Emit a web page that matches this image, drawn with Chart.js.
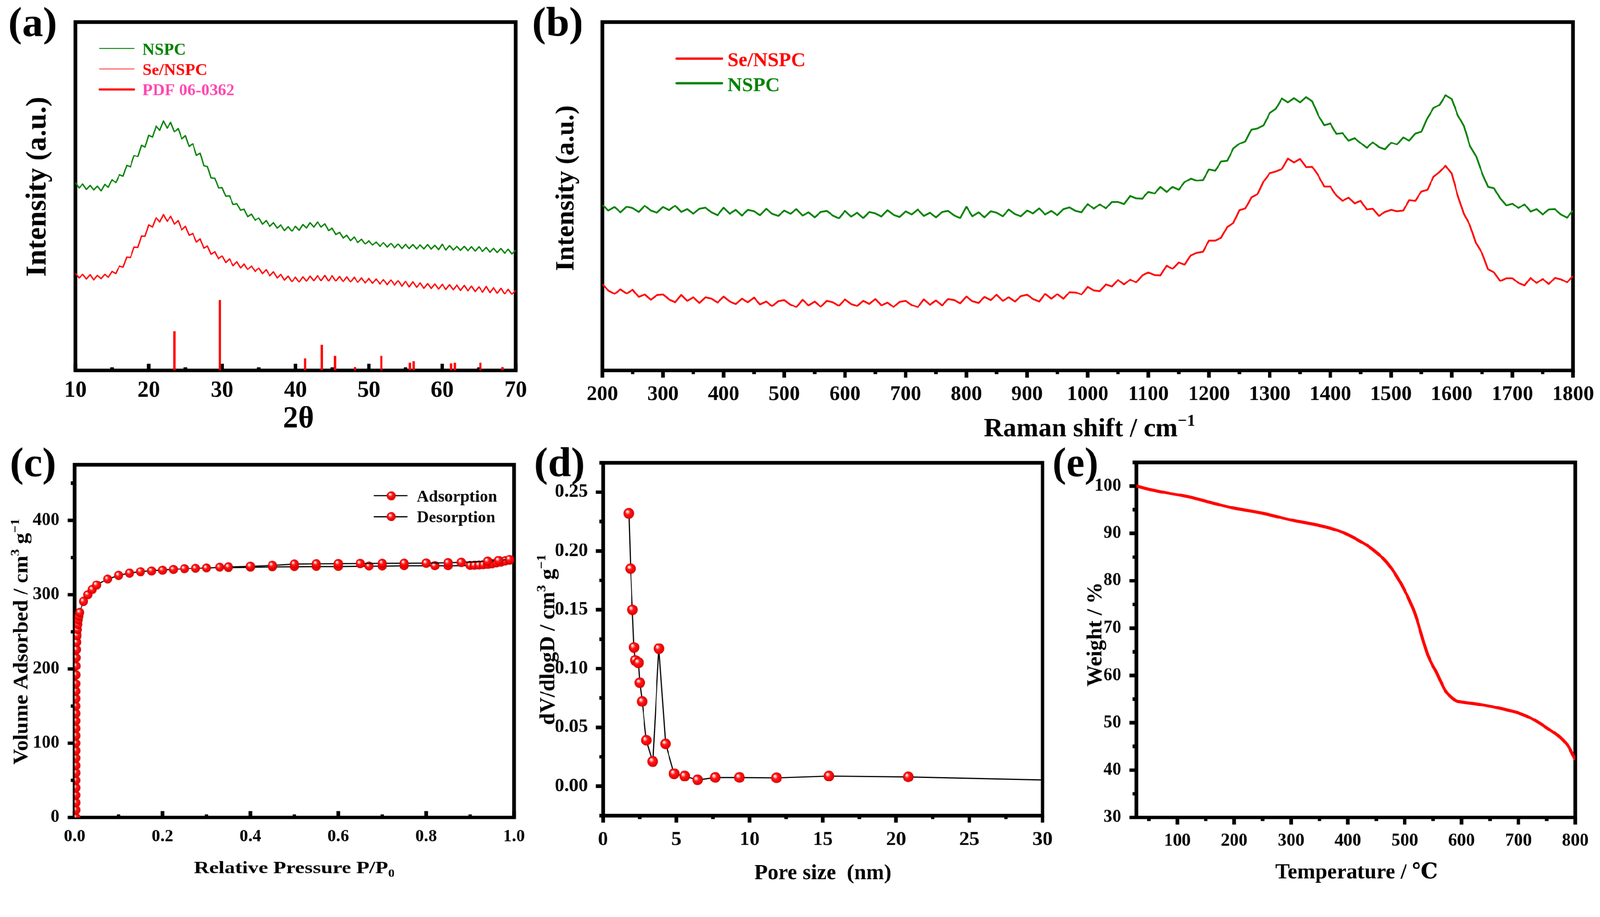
<!DOCTYPE html>
<html>
<head>
<meta charset="utf-8">
<script src="https://cdn.jsdelivr.net/npm/chart.js@4.4.1/dist/chart.umd.min.js"></script>
<style>
  html, body { margin: 0; padding: 0; background: #fff; overflow: hidden; }
  #stage { position: absolute; left: 0; top: 0; width: 4224px; height: 2348px; transform-origin: 0 0; }
  canvas { position: absolute; }
</style>
</head>
<body>
<div id="stage">
<canvas id="chartA"></canvas>
<canvas id="chartB"></canvas>
<canvas id="chartC"></canvas>
<canvas id="chartD"></canvas>
<canvas id="chartE"></canvas>
</div>
<script>
// ---- (a) XRD ----
const twoTheta = [
  10,10.5,11,11.5,12,12.5,13,13.5,14,14.5,15,15.5,16,16.5,17,17.5,18,18.5,19,19.5,
  20,20.5,21,21.5,22,22.5,23,23.5,24,24.5,25,25.5,26,26.5,27,27.5,28,28.5,29,29.5,
  30,30.5,31,31.5,32,32.5,33,33.5,34,34.5,35,35.5,36,36.5,37,37.5,38,38.5,39,39.5,
  40,40.5,41,41.5,42,42.5,43,43.5,44,44.5,45,45.5,46,46.5,47,47.5,48,48.5,49,49.5,
  50,50.5,51,51.5,52,52.5,53,53.5,54,54.5,55,55.5,56,56.5,57,57.5,58,58.5,59,59.5,
  60,60.5,61,61.5,62,62.5,63,63.5,64,64.5,65,65.5,66,66.5,67,67.5,68,68.5,69,69.5,70
];
const xrdNspc = [
  53.9,52.4,53.5,52.0,53.1,51.8,52.9,51.6,53.4,52.6,54.8,53.9,56.2,55.8,58.9,58.5,61.7,61.4,64.6,64.1,
  67.5,67.0,70.2,69.0,71.6,69.6,71.2,68.5,69.5,66.5,67.4,64.3,65.1,61.8,62.4,58.8,58.6,55.3,55.2,52.4,
  52.5,50.0,50.1,47.7,47.9,46.0,46.3,44.2,44.9,43.1,43.8,42.0,43.0,41.4,42.4,40.9,41.8,40.2,41.3,40.0,
  41.4,40.3,41.9,40.9,42.4,41.2,42.6,41.2,42.1,40.2,40.9,39.0,39.6,38.0,38.8,37.3,38.3,36.8,37.7,36.3,
  37.3,36.0,36.9,35.6,36.7,35.4,36.5,35.2,36.3,35.0,36.2,35.0,36.1,34.9,36.0,34.9,36.1,34.8,35.9,34.7,
  36.2,34.6,35.8,34.6,35.6,34.5,35.6,34.4,35.5,34.3,35.5,34.2,35.3,34.0,35.1,33.9,35.0,33.7,34.8,33.5,34.5
];
const xrdSeNspc = [
  27.9,26.6,27.6,26.3,27.5,26.0,27.3,26.4,27.6,26.8,28.4,27.8,30.0,29.7,32.5,32.4,35.4,35.3,38.6,38.5,
  41.8,41.2,43.9,42.6,44.8,42.8,44.3,42.0,43.0,40.4,41.4,38.8,39.3,36.9,37.8,35.1,35.7,33.4,34.1,32.0,
  32.9,31.0,32.0,30.1,31.2,29.5,30.6,29.0,30.0,28.4,29.4,27.8,28.9,27.2,28.3,26.6,27.6,26.0,27.1,25.5,
  26.8,25.4,26.9,25.6,27.1,25.8,27.2,25.8,27.3,25.7,27.2,25.7,27.0,25.5,26.9,25.4,26.8,25.3,26.6,25.1,
  26.5,25.0,26.3,24.8,26.1,24.6,26.0,24.5,25.8,24.2,25.6,24.0,25.4,23.9,25.1,23.6,24.9,23.5,24.8,23.4,
  24.7,23.3,24.6,23.2,24.5,23.0,24.4,22.9,24.2,22.7,24.0,22.5,24.1,22.4,23.8,22.2,23.6,22.0,23.3,21.9,23.0
];
const pdfPos = [23.5, 29.7, 41.3, 43.6, 45.4, 48.1, 51.7, 55.6, 56.1, 61.2, 61.7, 65.2, 68.2];
const pdfInt = [11.2, 20.2, 3.4, 7.3, 4.2, 1.0, 4.2, 2.2, 2.6, 2.0, 2.2, 2.2, 1.0];
const xrdTicks = [10, 20, 30, 40, 50, 60, 70];

// ---- (b) Raman ----
const ramanShift = [
  200,210,220,230,240,250,260,270,280,290,300,310,320,330,340,350,360,370,380,390,
  400,410,420,430,440,450,460,470,480,490,500,510,520,530,540,550,560,570,580,590,
  600,610,620,630,640,650,660,670,680,690,700,710,720,730,740,750,760,770,780,790,
  800,810,820,830,840,850,860,870,880,890,900,910,920,930,940,950,960,970,980,990,
  1000,1010,1020,1030,1040,1050,1060,1070,1080,1090,1100,1110,1120,1130,1140,1150,1160,1170,1180,1190,
  1200,1210,1220,1230,1240,1250,1260,1270,1280,1290,1300,1310,1320,1330,1340,1350,1360,1370,1380,1390,
  1400,1410,1420,1430,1440,1450,1460,1470,1480,1490,1500,1510,1520,1530,1540,1550,1560,1570,1580,1590,
  1600,1610,1620,1630,1640,1650,1660,1670,1680,1690,1700,1710,1720,1730,1740,1750,1760,1770,1780,1790,1800
];
const ramanNspc = [
  47.5,45.9,46.9,45.4,47.0,46.6,45.5,47.3,45.9,45.3,46.9,46.0,47.3,45.5,46.3,45.0,46.4,46.7,45.4,44.6,
  46.7,45.0,46.1,44.5,46.1,45.7,44.6,46.4,45.0,44.4,45.9,45.0,46.3,44.5,45.4,44.0,45.5,45.8,44.5,43.7,
  45.8,44.2,45.3,43.8,45.5,45.1,44.2,46.0,44.7,44.1,45.7,44.8,46.2,44.4,45.3,44.0,45.5,45.8,44.5,43.8,
  47.0,44.3,45.4,44.0,45.7,45.3,44.3,46.2,44.9,44.3,45.9,45.1,46.5,44.8,45.8,44.6,46.3,46.8,45.8,45.4,
  47.8,46.4,47.7,46.5,48.4,48.4,47.8,50.1,49.4,49.3,51.3,50.8,52.7,51.3,52.7,51.9,54.1,55.1,54.5,54.7,
  57.7,57.3,60.0,60.2,63.7,65.1,65.8,69.2,69.5,70.4,73.9,75.1,78.1,77.0,78.2,77.0,78.5,77.3,73.3,70.4,
  70.9,67.9,68.1,66.0,66.7,65.3,63.9,65.5,64.1,63.5,65.4,64.9,66.9,66.0,68.0,68.5,72.5,75.3,76.3,79.0,
  77.9,73.3,70.2,64.5,61.6,56.7,52.7,52.3,49.4,47.4,47.9,46.6,47.7,45.6,46.3,44.8,46.2,46.3,44.8,43.9,45.9
];
const ramanSeNspc = [
  24.7,23.0,22.0,23.3,22.1,23.2,21.1,21.8,20.3,21.6,21.8,20.4,19.6,21.7,20.0,21.0,19.4,21.0,20.6,19.5,
  21.2,19.8,19.1,20.6,19.6,20.9,19.0,19.8,18.5,19.9,20.2,18.9,18.2,20.3,18.7,19.8,18.3,20.0,19.6,18.6,
  20.4,19.1,18.5,20.0,19.1,20.5,18.7,19.5,18.2,19.7,20.0,18.8,18.2,20.4,18.9,20.1,18.7,20.5,20.2,19.3,
  21.2,19.9,19.4,21.1,20.2,21.7,20.0,21.0,19.8,21.3,21.7,20.5,19.8,22.0,20.6,21.9,20.6,22.5,22.4,21.8,
  24.0,23.0,22.8,24.7,24.1,26.0,24.7,26.1,25.3,27.3,28.1,27.4,27.3,30.1,29.2,31.0,30.4,33.1,33.8,34.1,
  37.3,37.3,38.1,41.2,42.3,46.0,46.5,49.7,50.6,54.3,56.6,57.1,57.8,60.8,59.7,60.7,58.4,58.5,56.0,52.8,
  52.8,50.2,48.7,49.6,48.0,48.7,46.2,46.4,44.4,45.5,46.1,45.7,45.9,48.9,48.7,51.4,51.9,55.6,57.0,58.8,
  56.5,50.2,45.0,41.7,36.6,33.7,29.0,28.1,25.7,26.5,26.5,25.1,24.4,26.6,25.1,26.3,24.8,26.6,26.2,25.3,27.1
];
const ramanTicks = [200,300,400,500,600,700,800,900,1000,1100,1200,1300,1400,1500,1600,1700,1800];

// ---- (c) N2 isotherm ----
const adsP = [
  0.0025,0.0025,0.0025,0.0025,0.0025,0.0025,0.0025,0.0025,0.0025,0.0025,
  0.0025,0.0025,0.0025,0.0025,0.0025,0.0025,0.0025,0.0025,0.0025,
  0.0027,0.003,0.0033,0.0038,0.0045,0.0055,0.0065,0.0075,0.0085,0.0097,0.0115,
  0.02,0.03,0.04,0.05,0.075,0.10,0.125,0.15,0.175,0.20,0.225,0.25,0.275,0.30,0.33,0.35,
  0.40,0.45,0.50,0.55,0.60,0.67,0.70,0.75,0.82,0.85,0.90,0.91,0.92,0.93,0.94,0.95,0.96,0.97,0.98,0.99
];
const adsV = [
  0,10,20,30,40,50,60,70,80,90,100,110,120,130,140,150,160,170,180,
  192,204,215,226,236,245,253,260,266,271,276,
  291,300,307,313,321,326,329,331,332,333,334,335,335.5,336,337,336.5,
  337,337.5,337.7,338,338,338.5,338.5,339,339,339,339.3,339.5,339.8,340.2,340.8,341.8,343,344,345.5,346.5
];
const desP = [0.99, 0.965, 0.94, 0.88, 0.85, 0.80, 0.75, 0.70, 0.65, 0.60, 0.55, 0.50, 0.45, 0.40, 0.35];
const desV = [347.5, 346, 345, 343.5, 343, 342.5, 342.3, 342.2, 342, 341.8, 341.6, 341.3, 339.5, 338.3, 337.5];
const pressureTicks = [0, 0.2, 0.4, 0.6, 0.8, 1.0];
const volumeTicks = [0, 100, 200, 300, 400];

// ---- (d) pore size distribution ----
const poreSize = [1.76, 1.88, 2.0, 2.11, 2.2, 2.41, 2.51, 2.67, 2.95, 3.39, 3.81, 4.27, 4.85, 5.57, 6.45, 7.66, 9.31, 11.84, 15.42, 20.83, 30];
const poreDv = [0.232, 0.185, 0.150, 0.118, 0.107, 0.105, 0.088, 0.072, 0.039, 0.021, 0.117, 0.036, 0.0106, 0.0086, 0.0054, 0.0074, 0.0074, 0.0071, 0.0086, 0.0079, 0.0054];
const poreMarker = [1,1,1,1,1,1,1,1,1,1,1,1,1,1,1,1,1,1,1,1,0];
const poreTicks = [0, 5, 10, 15, 20, 25, 30];
const dvTicks = [0, 0.05, 0.10, 0.15, 0.20, 0.25];

// ---- (e) TGA ----
const tgaTemp = [28, 55, 85, 121, 157, 193, 253, 301, 349, 385, 421, 445, 469, 493, 517, 541, 556, 571, 588, 600, 620, 654, 680, 702, 725, 744, 760, 774, 788, 800];
const tgaWeight = [100, 99.2, 98.5, 97.7, 96.6, 95.5, 94.2, 92.8, 91.7, 90.5, 88.4, 86.5, 83.8, 79.5, 73.4, 64.2, 60.6, 56.9, 54.8, 54.4, 54.1, 53.4, 52.7, 52.0, 50.8, 49.4, 48.1, 46.9, 45.0, 42.2];
const tempTicks = [100, 200, 300, 400, 500, 600, 700, 800];
const weightTicks = [30, 40, 50, 60, 70, 80, 90, 100];

const SERIF = '"Liberation Serif", "Times New Roman", "DejaVu Serif", serif';
const GREEN = '#008000';
const RED = '#ff0000';
const PINK = '#ff46b0';
const FRAME = 9.5;
const TICKW = 9.5;

// fit the 4224x2348 layout into whatever viewport we get
const stage = document.getElementById('stage');
const fitScale = Math.min(window.innerWidth / 4224, window.innerHeight / 2348) || 1;
stage.style.transform = 'scale(' + fitScale + ')';
const pixelRatio = (window.devicePixelRatio || 1) * fitScale;

function pts(xs, ys) {
  return xs.map((x, i) => ({x: x, y: ys[i]}));
}

function makeBall(r) {
  const c = document.createElement('canvas');
  const s = Math.ceil(2 * r + 2);
  c.width = c.height = s;
  const g = c.getContext('2d');
  const m = s / 2;
  const grad = g.createRadialGradient(m - r * 0.35, m - r * 0.38, r * 0.04, m, m, r);
  grad.addColorStop(0, '#ffffff');
  grad.addColorStop(0.16, '#ffc0c0');
  grad.addColorStop(0.42, '#ff1a1a');
  grad.addColorStop(0.85, '#f00000');
  grad.addColorStop(1, '#b80000');
  g.fillStyle = grad;
  g.beginPath();
  g.arc(m, m, r, 0, Math.PI * 2);
  g.fill();
  return c;
}
const ballC = makeBall(12);
const ballD = makeBall(14);

// rich text: segs = [[text, mode]], mode '' | 'sup' | 'sub'; sx = horizontal stretch
function drawRich(ctx, segs, x, y, size, align, color, sx) {
  sx = sx || 1;
  const small = size * 0.62;
  let w = 0;
  segs.forEach(s => {
    ctx.font = 'bold ' + (s[1] ? small : size) + 'px ' + SERIF;
    w += ctx.measureText(s[0]).width;
  });
  ctx.save();
  ctx.translate(align === 'center' ? x - w * sx / 2 : x, y);
  ctx.scale(sx, 1);
  ctx.fillStyle = color || '#000';
  ctx.textBaseline = 'alphabetic';
  ctx.textAlign = 'left';
  let cx = 0;
  segs.forEach(s => {
    ctx.font = 'bold ' + (s[1] ? small : size) + 'px ' + SERIF;
    let dy = 0;
    if (s[1] === 'sup') dy = -size * 0.4;
    if (s[1] === 'sub') dy = size * 0.2;
    ctx.fillText(s[0], cx, dy);
    cx += ctx.measureText(s[0]).width;
  });
  ctx.restore();
}

const deco = {};

const decoPlugin = {
  id: 'panelDeco',
  beforeDatasetsDraw(chart) {
    const cfg = deco[chart.canvas.id];
    const ctx = chart.ctx;
    const a = chart.chartArea;
    ctx.save();
    ctx.fillStyle = '#000';
    cfg.ticks.forEach(t => {
      const scale = chart.scales[t.axis];
      const n = Math.round((t.to - t.from) / t.minor);
      for (let k = 0; k <= n; k++) {
        const v = t.from + k * t.minor;
        const q = v / t.major;
        const isMajor = Math.abs(q - Math.round(q)) < 1e-6;
        const len = (isMajor ? t.majLen : t.minLen) + FRAME / 2;
        const p = scale.getPixelForValue(v);
        if (t.axis === 'x') {
          if (t.dir === 'in') ctx.fillRect(p - TICKW / 2, a.bottom - len, TICKW, len);
          else ctx.fillRect(p - TICKW / 2, a.bottom, TICKW, len);
        } else {
          ctx.fillRect(a.left - len, p - TICKW / 2, len, TICKW);
        }
      }
    });
    ctx.lineWidth = FRAME;
    ctx.strokeStyle = '#000';
    ctx.strokeRect(a.left, a.top, a.right - a.left, a.bottom - a.top);
    ctx.restore();
  },
  afterDraw(chart) {
    const cfg = deco[chart.canvas.id];
    const ctx = chart.ctx;
    ctx.save();
    cfg.legend.forEach(l => {
      ctx.strokeStyle = l.color;
      ctx.lineWidth = l.width;
      ctx.lineCap = 'round';
      ctx.beginPath();
      ctx.moveTo(l.x1 - cfg.ox, l.y - cfg.oy);
      ctx.lineTo(l.x2 - cfg.ox, l.y - cfg.oy);
      ctx.stroke();
      if (l.ball) {
        ctx.drawImage(l.ball, l.mx - cfg.ox - l.ball.width / 2, l.y - cfg.oy - l.ball.height / 2);
      }
      drawRich(ctx, [[l.text, '']], l.tx - cfg.ox, l.ty - cfg.oy, l.size, 'left', l.tcolor);
    });
    cfg.texts.forEach(t => {
      if (t.rot) {
        ctx.save();
        ctx.translate(t.x - cfg.ox, t.y - cfg.oy);
        ctx.rotate(-Math.PI / 2);
        drawRich(ctx, t.segs, 0, t.size * 0.3, t.size, 'center', '#000', t.sx);
        ctx.restore();
      } else {
        drawRich(ctx, t.segs, t.x - cfg.ox, t.y - cfg.oy, t.size, t.align, '#000', t.sx);
      }
    });
    ctx.restore();
  }
};

function tickFont(size) {
  return {family: SERIF, size: size, weight: 'bold', lineHeight: 1.2};
}

function fixScale(opts, size, isX, tickValues) {
  return Object.assign({
    grid: {display: false},
    border: {display: false},
    afterBuildTicks(scale) {
      if (tickValues) scale.ticks = tickValues.map(v => ({value: v}));
    },
    afterFit(scale) {
      if (isX) scale.height = size; else scale.width = size;
      scale.paddingLeft = 0;
      scale.paddingRight = 0;
      scale.paddingTop = 0;
      scale.paddingBottom = 0;
    }
  }, opts);
}

// box: canvas [left, top, right, bottom]; area: plot frame [left, top, right, bottom] (page coords)
function makePanel(id, box, area, datasets, xOpts, yOpts, xTicks, yTicks, extra) {
  const canvas = document.getElementById(id);
  const w = box[2] - box[0];
  const h = box[3] - box[1];
  canvas.width = w;
  canvas.height = h;
  canvas.style.left = box[0] + 'px';
  canvas.style.top = box[1] + 'px';
  canvas.style.width = w + 'px';
  canvas.style.height = h + 'px';
  deco[id] = Object.assign({ox: box[0], oy: box[1]}, extra);
  return new Chart(canvas, {
    type: 'line',
    data: {datasets: datasets},
    options: {
      responsive: false,
      animation: false,
      devicePixelRatio: pixelRatio,
      events: [],
      layout: {padding: {left: 0, top: area[1] - box[1], right: box[2] - area[2], bottom: 0}},
      plugins: {legend: {display: false}, tooltip: {enabled: false}},
      scales: {
        x: fixScale(xOpts, box[3] - area[3], true, xTicks),
        y: fixScale(yOpts, area[0] - box[0], false, yTicks)
      }
    },
    plugins: [decoPlugin]
  });
}

const asText = v => String(v);

// (a)
makePanel('chartA', [0, 0, 1480, 1180], [199, 58.5, 1361, 978], [
  {type: 'line', data: pts(twoTheta, xrdNspc), borderColor: GREEN, borderWidth: 3.5, pointRadius: 0, borderJoinStyle: 'round'},
  {type: 'line', data: pts(twoTheta, xrdSeNspc), borderColor: RED, borderWidth: 3.5, pointRadius: 0, borderJoinStyle: 'round'},
  {type: 'bar', data: pts(pdfPos, pdfInt), backgroundColor: RED, barThickness: 5.5}
], {
  type: 'linear', min: 10, max: 70, offset: false,
  ticks: {font: tickFont(60), color: '#000', padding: 10, maxRotation: 0, autoSkip: false, callback: asText}
}, {
  type: 'linear', min: 0, max: 100, ticks: {display: false}
}, xrdTicks, null, {
  ticks: [{axis: 'x', from: 10, to: 70, major: 10, minor: 5, dir: 'in', majLen: 13, minLen: 4}],
  texts: [
    {segs: [['(a)', '']], x: 22, y: 95, size: 110, align: 'left'},
    {segs: [['2θ', '']], x: 788, y: 1128, size: 80, align: 'center'},
    {segs: [['Intensity (a.u.)', '']], x: 98, y: 493, size: 76, rot: true}
  ],
  legend: [
    {x1: 263, x2: 354, y: 128, color: GREEN, width: 2.5, text: 'NSPC', tx: 376, ty: 144, tcolor: GREEN, size: 44},
    {x1: 263, x2: 354, y: 182, color: RED, width: 2.5, text: 'Se/NSPC', tx: 376, ty: 198, tcolor: RED, size: 44},
    {x1: 263, x2: 354, y: 236, color: RED, width: 5.5, text: 'PDF 06-0362', tx: 376, ty: 252, tcolor: PINK, size: 44}
  ]
});

// (b)
makePanel('chartB', [1380, 0, 4224, 1180], [1590, 58.5, 4152, 978], [
  {data: pts(ramanShift, ramanNspc), borderColor: GREEN, borderWidth: 4.5, pointRadius: 0, borderJoinStyle: 'round'},
  {data: pts(ramanShift, ramanSeNspc), borderColor: RED, borderWidth: 4.5, pointRadius: 0, borderJoinStyle: 'round'}
], {
  type: 'linear', min: 200, max: 1800,
  ticks: {font: tickFont(55), color: '#000', padding: 23, maxRotation: 0, autoSkip: false, callback: asText}
}, {
  type: 'linear', min: 0, max: 100, ticks: {display: false}
}, ramanTicks, null, {
  ticks: [{axis: 'x', from: 200, to: 1800, major: 100, minor: 50, dir: 'out', majLen: 14, minLen: 5}],
  texts: [
    {segs: [['(b)', '']], x: 1405, y: 95, size: 110, align: 'left'},
    {segs: [['Raman shift / cm', ''], ['−1', 'sup']], x: 2876, y: 1152, size: 70, align: 'center'},
    {segs: [['Intensity (a.u.)', '']], x: 1493, y: 497, size: 70, rot: true}
  ],
  legend: [
    {x1: 1786, x2: 1906, y: 155, color: RED, width: 6, text: 'Se/NSPC', tx: 1920, ty: 174, tcolor: RED, size: 53},
    {x1: 1786, x2: 1906, y: 220, color: GREEN, width: 6, text: 'NSPC', tx: 1920, ty: 240, tcolor: GREEN, size: 53}
  ]
});

// (c)
makePanel('chartC', [0, 1180, 1420, 2348], [197, 1227, 1357, 2158], [
  {label: 'Desorption', data: pts(desP, desV), borderColor: '#000', borderWidth: 3, pointStyle: ballC, pointRadius: 12},
  {label: 'Adsorption', data: pts(adsP, adsV), borderColor: '#000', borderWidth: 3, pointStyle: ballC, pointRadius: 12}
], {
  type: 'linear', min: 0, max: 1,
  ticks: {font: tickFont(46), color: '#000', padding: 15, maxRotation: 0, autoSkip: false, callback: v => v.toFixed(1)}
}, {
  type: 'linear', min: 0, max: 475,
  ticks: {font: tickFont(47), color: '#000', padding: 32, autoSkip: false, callback: asText}
}, pressureTicks, volumeTicks, {
  ticks: [
    {axis: 'x', from: 0, to: 1, major: 0.2, minor: 0.1, dir: 'in', majLen: 12, minLen: 3.5},
    {axis: 'y', from: 0, to: 450, major: 100, minor: 50, dir: 'out', majLen: 14, minLen: 5}
  ],
  texts: [
    {segs: [['(c)', '']], x: 26, y: 1257, size: 110, align: 'left'},
    {segs: [['Relative Pressure P/P', ''], ['0', 'sub']], x: 777, y: 2305, size: 45, align: 'center', sx: 1.24},
    {segs: [['Volume Adsorbed / cm', ''], ['3', 'sup'], [' g', ''], ['−1', 'sup']], x: 56, y: 1694, size: 54, rot: true, sx: 1.05}
  ],
  legend: [
    {x1: 988, x2: 1075, y: 1309, color: '#000', width: 3, ball: ballC, mx: 1033, text: 'Adsorption', tx: 1100, ty: 1324, tcolor: '#000', size: 44},
    {x1: 988, x2: 1075, y: 1364, color: '#000', width: 3, ball: ballC, mx: 1033, text: 'Desorption', tx: 1100, ty: 1379, tcolor: '#000', size: 44}
  ]
});

// (d)
makePanel('chartD', [1400, 1180, 2840, 2348], [1592, 1222, 2752, 2153], [
  {data: pts(poreSize, poreDv), borderColor: '#000', borderWidth: 3, pointStyle: ballD,
   pointRadius: poreMarker.map(m => m * 14)}
], {
  type: 'linear', min: 0, max: 30,
  ticks: {font: tickFont(53), color: '#000', padding: 24, maxRotation: 0, autoSkip: false, callback: asText}
}, {
  type: 'linear', min: -0.025, max: 0.275,
  ticks: {font: tickFont(50), color: '#000', padding: 32, autoSkip: false, callback: v => v.toFixed(2)}
}, poreTicks, dvTicks, {
  ticks: [
    {axis: 'x', from: 0, to: 30, major: 5, minor: 2.5, dir: 'out', majLen: 14, minLen: 5},
    {axis: 'y', from: -0.025, to: 0.275, major: 0.05, minor: 0.025, dir: 'out', majLen: 14, minLen: 5}
  ],
  texts: [
    {segs: [['(d)', '']], x: 1410, y: 1257, size: 110, align: 'left'},
    {segs: [['Pore size  (nm)', '']], x: 2172, y: 2321, size: 57, align: 'center'},
    {segs: [['dV/dlogD / cm', ''], ['3', 'sup'], [' g', ''], ['−1', 'sup']], x: 1446, y: 1689, size: 57, rot: true}
  ],
  legend: []
});

// (e)
makePanel('chartE', [2760, 1180, 4224, 2348], [3000, 1221, 4158, 2158], [
  {data: pts(tgaTemp, tgaWeight), borderColor: RED, borderWidth: 8, pointRadius: 0, cubicInterpolationMode: 'monotone'}
], {
  type: 'linear', min: 28, max: 800,
  ticks: {font: tickFont(47), color: '#000', padding: 27, maxRotation: 0, autoSkip: false, callback: asText}
}, {
  type: 'linear', min: 30, max: 105,
  ticks: {font: tickFont(47), color: '#000', padding: 32, autoSkip: false, callback: asText}
}, tempTicks, weightTicks, {
  ticks: [
    {axis: 'x', from: 50, to: 800, major: 100, minor: 50, dir: 'out', majLen: 14, minLen: 5},
    {axis: 'y', from: 30, to: 105, major: 10, minor: 5, dir: 'out', majLen: 14, minLen: 5}
  ],
  texts: [
    {segs: [['(e)', '']], x: 2778, y: 1257, size: 110, align: 'left'},
    {segs: [['Temperature / ℃', '']], x: 3581, y: 2318, size: 57, align: 'center'},
    {segs: [['Weight / %', '']], x: 2890, y: 1675, size: 57, rot: true}
  ],
  legend: []
});
</script>
</body>
</html>
